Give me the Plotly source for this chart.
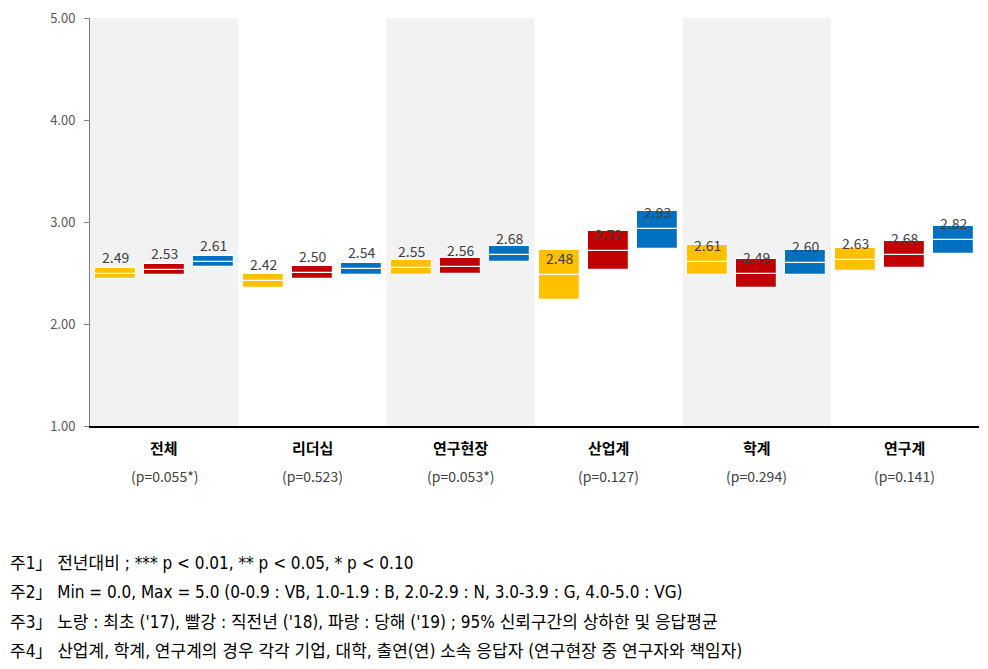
import plotly.graph_objects as go

# 그룹 / 연도별 응답평균과 95% 신뢰구간
groups = ["전체", "리더십", "연구현장", "산업계", "학계", "연구계"]
p_values = ["(p=0.055*)", "(p=0.523)", "(p=0.053*)", "(p=0.127)", "(p=0.294)", "(p=0.141)"]

mean_17 = [2.49, 2.42, 2.55, 2.48, 2.61, 2.63]
low_17 = [2.44, 2.35, 2.48, 2.24, 2.48, 2.52]
high_17 = [2.55, 2.49, 2.63, 2.73, 2.77, 2.75]

mean_18 = [2.53, 2.50, 2.56, 2.72, 2.49, 2.68]
low_18 = [2.48, 2.44, 2.49, 2.53, 2.35, 2.55]
high_18 = [2.59, 2.57, 2.65, 2.91, 2.64, 2.81]

mean_19 = [2.61, 2.54, 2.68, 2.93, 2.60, 2.82]
low_19 = [2.56, 2.48, 2.61, 2.74, 2.48, 2.69]
high_19 = [2.67, 2.60, 2.76, 3.11, 2.73, 2.96]

notes = [
    "주1」 전년대비 ; *** p < 0.01, ** p < 0.05, * p < 0.10",
    "주2」 Min = 0.0, Max = 5.0 (0-0.9 : VB, 1.0-1.9 : B, 2.0-2.9 : N, 3.0-3.9 : G, 4.0-5.0 : VG)",
    "주3」 노랑 : 최초 ('17), 빨강 : 직전년 ('18), 파랑 : 당해 ('19) ; 95% 신뢰구간의 상하한 및 응답평균",
    "주4」 산업계, 학계, 연구계의 경우 각각 기업, 대학, 출연(연) 소속 응답자 (연구현장 중 연구자와 책임자)",
]

FONT = "Noto Sans CJK KR"
NOTE_FONT = "Liberation Sans Narrow, DejaVu Sans Condensed, Noto Sans CJK KR"
series = [
    (mean_17, low_17, high_17, "#FFC000", -0.331),
    (mean_18, low_18, high_18, "#C00000", 0.0),
    (mean_19, low_19, high_19, "#0070C0", 0.331),
]
BAR_W = 0.277

# 페이지 body 여백(8px)을 감안한 크기
W, H = 980, 661
ML, MR, MT, MB = 82, 9, 10, 243
PLOT_W = W - ML - MR
PLOT_H = H - MT - MB

fig = go.Figure()
annotations = []

for mean, low, high, color, off in series:
    xs = [i + off for i in range(len(groups))]
    # 하한 ~ 평균
    fig.add_trace(go.Bar(
        x=xs, base=low, y=[m - l for m, l in zip(mean, low)], width=BAR_W,
        marker=dict(color=color, line=dict(color="white", width=1.2)),
        showlegend=False, hoverinfo="skip",
    ))
    # 평균 ~ 상한
    fig.add_trace(go.Bar(
        x=xs, base=mean, y=[h - m for h, m in zip(high, mean)], width=BAR_W,
        marker=dict(color=color, line=dict(color="white", width=1.2)),
        showlegend=False, hoverinfo="skip",
    ))
    for x, m in zip(xs, mean):
        annotations.append(dict(
            x=x, y=m, xref="x", yref="y", text=f"{m:.2f}", showarrow=False,
            yshift=17, font=dict(family=FONT, size=14, color="#404040"),
        ))

# 회색 배경 (홀수 그룹)
shapes = []
for i in range(0, len(groups), 2):
    shapes.append(dict(
        type="rect", xref="x", yref="paper", x0=i - 0.5, x1=i + 0.5, y0=0, y1=1,
        fillcolor="#F2F2F2", line=dict(width=0), layer="below",
    ))

# 그룹명과 p값
for i, (g, p) in enumerate(zip(groups, p_values)):
    annotations.append(dict(
        x=i, y=0, xref="x", yref="paper", text=f"<b>{g}</b>", showarrow=False,
        yanchor="middle", yshift=-21, font=dict(family=FONT, size=15, color="#000000"),
    ))
    annotations.append(dict(
        x=i, y=0, xref="x", yref="paper", text=p, showarrow=False,
        yanchor="middle", yshift=-50, font=dict(family=FONT, size=14, color="#404040"),
    ))

# 주석
for k, note in enumerate(notes):
    annotations.append(dict(
        x=-ML / PLOT_W, y=-(137 + 29.3 * k) / PLOT_H, xref="paper", yref="paper",
        text=note, showarrow=False, xanchor="left", yanchor="middle",
        font=dict(family=NOTE_FONT, size=17, color="#000000"),
    ))

fig.update_layout(
    width=W, height=H,
    margin=dict(l=ML, r=MR, t=MT, b=MB),
    plot_bgcolor="white", paper_bgcolor="white",
    barmode="overlay", bargap=0,
    shapes=shapes, annotations=annotations,
    xaxis=dict(
        range=[-0.5, len(groups) - 0.5], showticklabels=False, showgrid=False,
        zeroline=False, showline=True, linecolor="#000000", linewidth=1.5,
        automargin=False,
    ),
    yaxis=dict(
        range=[1, 5], tickvals=[1, 2, 3, 4, 5], tickformat=".2f",
        showgrid=False, zeroline=False, showline=True, linecolor="#808080",
        linewidth=1, ticks="outside", ticklen=5, tickcolor="#808080",
        ticklabelstandoff=6, ticklabeloverflow="allow",
        tickfont=dict(family=FONT, size=13, color="#595959"),
        automargin=False,
    ),
)

fig.write_html("out.html")
